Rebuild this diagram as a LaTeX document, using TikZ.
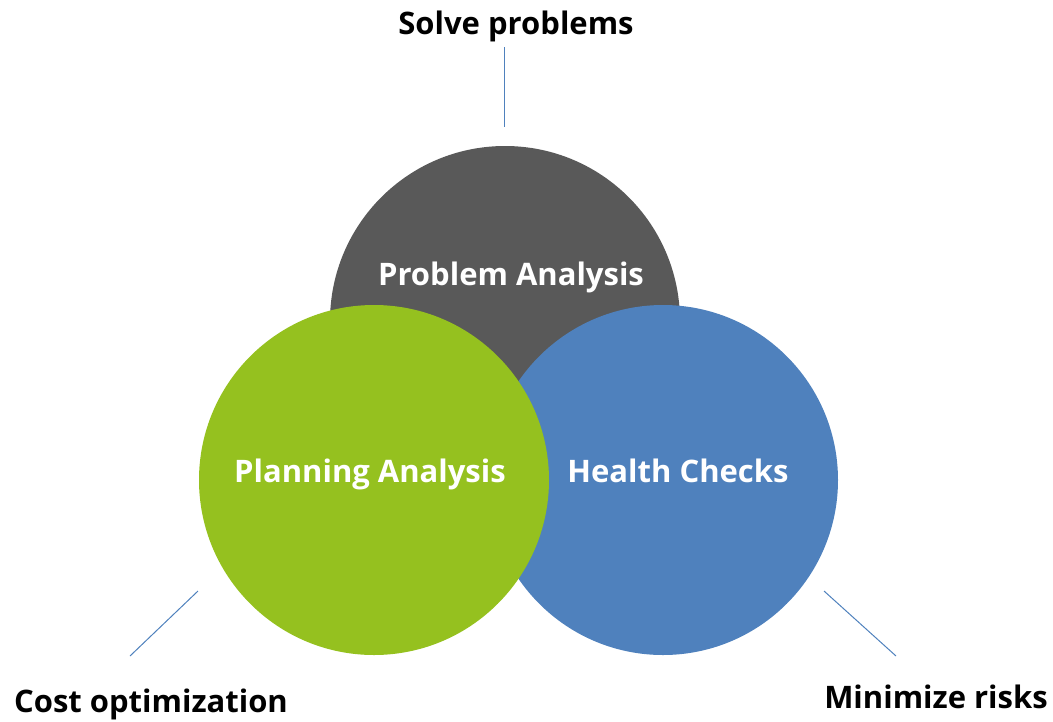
\documentclass[tikz,border=0pt]{standalone}
\usepackage{fontspec}
\setmainfont{Open Sans}
\definecolor{cgray}{HTML}{595959}
\definecolor{cgreen}{HTML}{95C11F}
\definecolor{cblue}{HTML}{4F81BD}
\begin{document}
\begin{tikzpicture}[x=1pt,y=-1pt,
  circ/.style={circle,minimum size=350pt,inner sep=0pt,outer sep=0pt},
  intext/.style={text=white,font=\fontsize{31}{36}\selectfont\bfseries,anchor=base},
  outtext/.style={text=black,font=\fontsize{31}{36}\selectfont\bfseries,anchor=base},
  conn/.style={draw=cblue,line width=1pt}]
\useasboundingbox (0,0) rectangle (1053,721);
\node[circ,fill=cgray] (pa) at (505,321) {};
\node[circ,fill=cblue] (hc) at (663,480) {};
\node[circ,fill=cgreen] (pl) at (374,480) {};
\node[intext] (tpa) at (511,285) {Problem Analysis};
\node[intext] (tpl) at (370,482) {Planning Analysis};
\node[intext] (thc) at (678,482) {Health Checks};
\node[outtext] (sp) at (516,34) {Solve problems};
\node[outtext] (co) at (151,712) {Cost optimization};
\node[outtext] (mr) at (936,708) {Minimize risks};
\coordinate (t1) at (504,47);
\coordinate (t2) at (504,127);
\coordinate (l1) at (198,591);
\coordinate (l2) at (130,656);
\coordinate (r1) at (824,591);
\coordinate (r2) at (896,656);
\draw[conn] (t1) -- (t2);
\draw[conn] (l1) -- (l2);
\draw[conn] (r1) -- (r2);
\end{tikzpicture}
\end{document}
